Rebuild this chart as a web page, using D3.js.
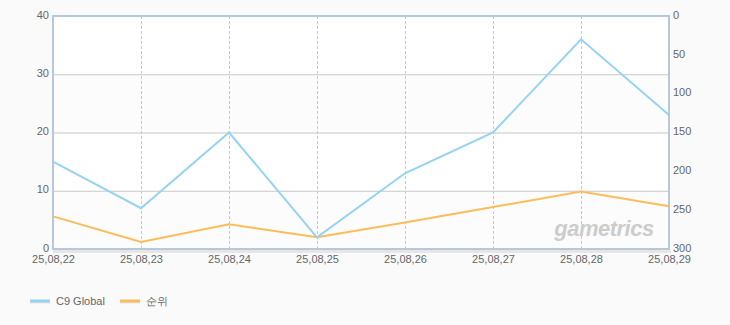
<!DOCTYPE html>
<html>
<head>
<meta charset="utf-8">
<script src="https://cdn.jsdelivr.net/npm/d3@7"></script>
<style>
    body { margin: 0; background: #fafafa; }
    text { font-family: "Liberation Sans", Arial, sans-serif; }
</style>
</head>
<body>
<div id="chart"></div>
<script>
"use strict"

// data
const dates = ["25,08,22", "25,08,23", "25,08,24", "25,08,25", "25,08,26", "25,08,27", "25,08,28", "25,08,29"];
const players = [15, 7, 20, 2, 13, 20, 36, 23];      // C9 Global (left axis)
const ranks = [258, 291, 268, 285, 266, 246, 226, 245]; // 순위 (right axis, reversed)
const leftTicks = [0, 10, 20, 30, 40];
const rightTicks = [0, 50, 100, 150, 200, 250, 300];
const seriesNames = ["C9 Global", "순위"];
const seriesColors = ["#95d3f1", "#fbbd5c"];

const width = 730;
const height = 325;
const plot = { left: 53, right: 669, top: 16, bottom: 249 };

const svg = d3.select("#chart").append("svg")
    .attr("width", width)
    .attr("height", height);

//----------------------------SCALES----------------------------//
const xScale = d3.scalePoint().domain(dates).range([plot.left, plot.right]);
const yLeft = d3.scaleLinear().domain([0, 40]).range([plot.bottom, plot.top]);
const yRight = d3.scaleLinear().domain([0, 300]).range([plot.top, plot.bottom]);

// background bands (white / light gray alternating)
svg.selectAll("rect.band")
    .data(d3.pairs(leftTicks))
    .join("rect")
    .attr("class", "band")
    .attr("x", plot.left)
    .attr("width", plot.right - plot.left)
    .attr("y", d => yLeft(d[1]))
    .attr("height", d => yLeft(d[0]) - yLeft(d[1]))
    .attr("fill", (d, i) => i % 2 === 0 ? "#fcfcfc" : "#ffffff");

// horizontal grid
svg.append("g")
    .selectAll("line")
    .data(leftTicks.slice(1, -1))
    .join("line")
    .attr("x1", plot.left).attr("x2", plot.right)
    .attr("y1", d => yLeft(d) + 0.5).attr("y2", d => yLeft(d) + 0.5)
    .attr("stroke", "#c8c8c8");

// vertical dashed grid
svg.append("g")
    .selectAll("line")
    .data(dates.slice(1, -1))
    .join("line")
    .attr("x1", d => xScale(d) + 0.5).attr("x2", d => xScale(d) + 0.5)
    .attr("y1", plot.top).attr("y2", plot.bottom)
    .attr("stroke", "#c8c8c8")
    .attr("stroke-dasharray", "3,2");

// watermark
svg.append("text")
    .attr("x", 604).attr("y", 236)
    .attr("text-anchor", "middle")
    .attr("font-size", 22)
    .attr("font-weight", "bold")
    .attr("font-style", "italic")
    .attr("letter-spacing", "-0.5")
    .attr("fill", "#cccccc")
    .text("gametrics");

// shadow under bottom axis
svg.append("rect")
    .attr("x", plot.left).attr("y", plot.bottom + 1)
    .attr("width", plot.right - plot.left + 2).attr("height", 3)
    .attr("fill", "#e6e6e6");

// frame
svg.append("rect")
    .attr("x", plot.left).attr("y", plot.top)
    .attr("width", plot.right - plot.left).attr("height", plot.bottom - plot.top)
    .attr("fill", "none")
    .attr("stroke", "#b6c8da")
    .attr("stroke-width", 2);

//-----------------------------AXES-----------------------------//
const styleAxis = g => {
    g.select(".domain").remove();
    g.selectAll(".tick line").remove();
    g.selectAll(".tick text")
        .attr("fill", "#666")
        .attr("font-size", 11)
        .attr("font-family", "Liberation Sans, Arial, sans-serif");
};

svg.append("g")
    .attr("transform", `translate(${plot.left},0)`)
    .call(d3.axisLeft(yLeft).tickValues(leftTicks).tickSize(0).tickPadding(4))
    .call(styleAxis)
    .selectAll(".tick text").attr("dy", "0.2em");

svg.append("g")
    .attr("transform", `translate(${plot.right},0)`)
    .call(d3.axisRight(yRight).tickValues(rightTicks).tickSize(0).tickPadding(4))
    .call(styleAxis)
    .selectAll(".tick text").attr("dy", "0.2em");

svg.append("g")
    .attr("transform", `translate(0,${plot.bottom})`)
    .call(d3.axisBottom(xScale).tickSize(0).tickPadding(6))
    .call(styleAxis);

//-----------------------------LINES----------------------------//
const lineLeft = d3.line().x((d, i) => xScale(dates[i])).y(d => yLeft(d));
const lineRight = d3.line().x((d, i) => xScale(dates[i])).y(d => yRight(d));

svg.append("path")
    .datum(ranks)
    .attr("d", lineRight)
    .attr("fill", "none")
    .attr("stroke", seriesColors[1])
    .attr("stroke-width", 2);

svg.append("path")
    .datum(players)
    .attr("d", lineLeft)
    .attr("fill", "none")
    .attr("stroke", seriesColors[0])
    .attr("stroke-width", 2);

//-----------------------------LEGEND---------------------------//
const legendX = [30, 120];
const legend = svg.append("g")
    .selectAll("g")
    .data(seriesNames)
    .join("g")
    .attr("transform", (d, i) => `translate(${legendX[i]},301)`);

legend.append("line")
    .attr("x1", 0).attr("x2", 20)
    .attr("y1", 1).attr("y2", 1)
    .attr("stroke", "#e4e4e4")
    .attr("stroke-width", 3);
legend.append("line")
    .attr("x1", 0).attr("x2", 20)
    .attr("stroke", (d, i) => seriesColors[i])
    .attr("stroke-width", 3);
legend.append("text")
    .attr("x", 26).attr("y", 4)
    .attr("font-size", 11)
    .attr("fill", "#666")
    .text(d => d);
</script>
</body>
</html>
